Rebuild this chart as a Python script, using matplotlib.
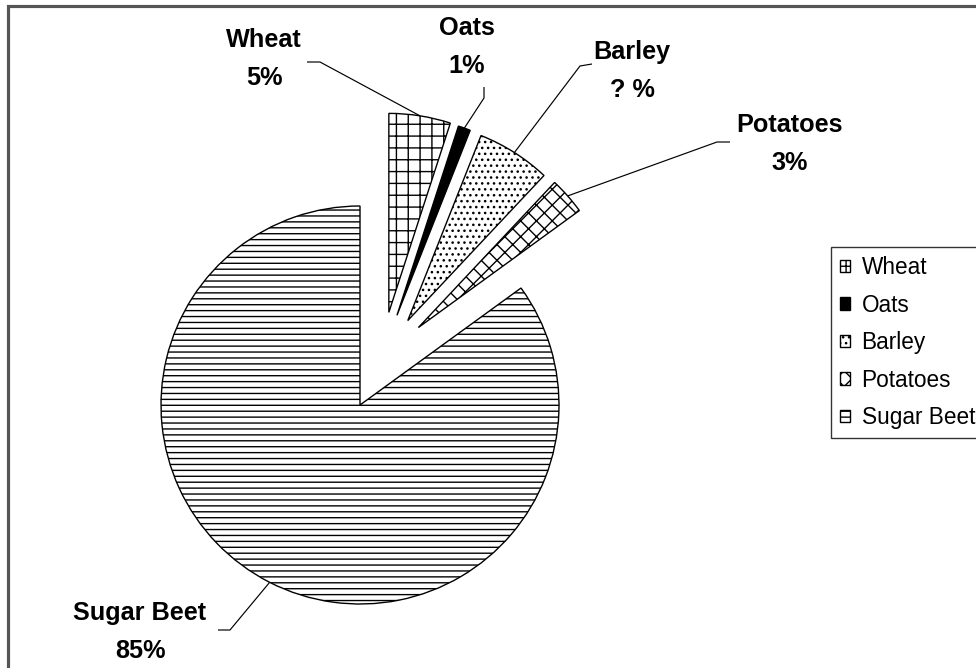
import numpy as np
import matplotlib
matplotlib.use("Agg")
import matplotlib.pyplot as plt

# crop shares (%), clockwise from 12 o'clock
crops = ["Wheat", "Oats", "Barley", "Potatoes", "Sugar Beet"]
shares = [5, 1, 6, 3, 85]
pct_text = ["5%", "1%", "? %", "3%", "85%"]

DPI = 142
W, H = 976, 668

plt.rcParams["font.family"] = ["Liberation Sans", "DejaVu Sans"]
plt.rcParams["hatch.linewidth"] = 0.7
plt.rcParams["hatch.color"] = "black"

fig = plt.figure(figsize=(W / DPI, H / DPI), dpi=DPI)
ax = fig.add_axes([0, 0, 1, 1])

def Y(y):
    # pixel row -> data y
    return H - y

cx, cy, R = 360, Y(405), 199
hatches = ["++", "", "....", "xxx", "----"]
faces = ["white", "black", "white", "white", "white"]

wedges, _ = ax.pie(shares, startangle=90, counterclock=False, center=(cx, cy),
                   radius=R, colors=faces, hatch=hatches,
                   wedgeprops=dict(edgecolor="black", linewidth=0.7))

# pie() resets the limits for a unit pie, so set them afterwards
ax.set_xlim(0, W)
ax.set_ylim(0, H)
ax.set_aspect("equal")
ax.axis("off")

# slices were pulled out by hand in the original, not along the bisector
pull_angle = [72.7, 67.6, 60.5, 53.0, None]
pull_dist = 97
for w, a in zip(wedges, pull_angle):
    if a is None:
        continue
    w.set_center((cx + pull_dist * np.cos(np.radians(a)),
                  cy + pull_dist * np.sin(np.radians(a))))

# label placement (pixel coords) and leader elbows
label_pos = [(264, 40), (467, 28), (632, 52), (790, 125), (140, 613)]
leader_start = [(307, 62), (484, 87), (592, 64), (730, 142), (218, 630)]
leader_elbow = [(320, 62), (484, 98), (580, 66), (717, 142), (230, 630)]

for w, name, pct, (lx, ly), s, e in zip(wedges, crops, pct_text, label_pos,
                                         leader_start, leader_elbow):
    ax.text(lx, Y(ly), name, ha="center", va="center", fontsize=12.8,
            fontweight="bold")
    ax.text(lx, Y(ly + 38), pct, ha="center", va="center", fontsize=12.8,
            fontweight="bold")
    mid = np.radians((w.theta1 + w.theta2) / 2)
    ex, ey = w.center[0] + w.r * np.cos(mid), w.center[1] + w.r * np.sin(mid)
    ax.plot([s[0], e[0], ex], [Y(s[1]), Y(e[1]), ey], color="black",
            linewidth=0.6, solid_capstyle="butt")

# chart area frame (right and bottom run off the image)
ax.plot([8, 8, W + 5], [-5, Y(6), Y(6)], color="#555555", linewidth=1.6,
        solid_joinstyle="miter")

# legend box runs past the right edge of the image, as in the original
leg = ax.legend(wedges, crops, loc="upper left", mode="expand",
                bbox_to_anchor=(831, Y(247) - 1, 200, 1),
                bbox_transform=ax.transData, fontsize=11.5, frameon=True,
                fancybox=False, borderpad=0.4, handlelength=0.45,
                handleheight=0.45, handletextpad=0.5, labelspacing=0.64,
                borderaxespad=0)
leg.get_frame().set_edgecolor("black")
leg.get_frame().set_linewidth(0.7)

fig.savefig("out.png", dpi=DPI)
